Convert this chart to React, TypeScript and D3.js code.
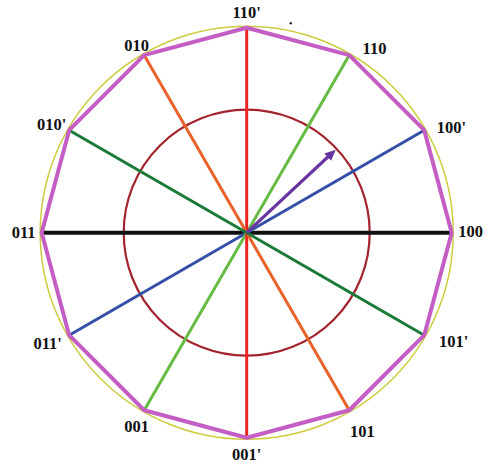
import React from "react";
import * as d3 from "d3";

// Vertex labels, counter-clockwise from the right (degrees, math convention)
const vertexAngles = [0, 30, 60, 90, 120, 150, 180, 210, 240, 270, 300, 330];
const vertexLabels = ["100", "100'", "110", "110'", "010", "010'", "011", "011'", "001", "001'", "101", "101'"];

// Diameters (spokes) through the centre
const spokeAngles = [0, 30, 60, 90, 120, 150];
const spokeColors = ["#111111", "#3450a8", "#66bb44", "#ee2222", "#e8622a", "#1b7a38"];

// The state-vector arrow
const arrowAngle = 43;
const arrowLength = 0.99; // fraction of inner circle radius

// label layout (radial distance and angular nudge per label)
const labelDist = [224, 230, 224, 220, 217, 223, 223, 228, 223, 222, 230, 234];
const labelNudge = [0.3, -2.9, -4.8, 0, 0.5, 1, 0, -0.8, 0.4, 0, 0.2, 2.2];

const W = 485;
const H = 465;
const cx = 246.7;
const cy = 232.7;
const R = 205;
const rInner = 123;

const rad = d3.scaleLinear().domain([0, 360]).range([0, 2 * Math.PI]);
const pt = (deg: number, r: number): [number, number] => {
  const [x, y] = d3.pointRadial(Math.PI / 2 - rad(deg), r);
  return [cx + x, cy + y];
};

export default function App() {
  const polyPts = vertexAngles.map((a) => pt(a, R));
  const poly = d3.line().curve(d3.curveLinearClosed)(polyPts) as string;

  const tip = pt(arrowAngle, rInner * arrowLength);
  const headLen = 11;
  const headW = 5;
  const base = pt(arrowAngle, rInner * arrowLength - headLen);
  const left = [base[0] + headW * Math.cos(rad(arrowAngle + 90)), base[1] - headW * Math.sin(rad(arrowAngle + 90))];
  const right = [base[0] + headW * Math.cos(rad(arrowAngle - 90)), base[1] - headW * Math.sin(rad(arrowAngle - 90))];
  const shaftEnd = pt(arrowAngle, rInner * arrowLength - headLen + 2);

  return (
    <svg width={W} height={H} style={{ position: "absolute", left: 0, top: 0, background: "#fff" }}>
      <circle cx={cx} cy={cy} r={R + 1.5} fill="none" stroke="#cccc3c" strokeWidth={1.5} />
      <circle cx={cx} cy={cy} r={rInner} fill="none" stroke="#a3232e" strokeWidth={2.2} />
      {spokeAngles.map((a, i) => {
        const [x1, y1] = pt(a, R);
        const [x2, y2] = pt(a + 180, R);
        return (
          <line key={a} x1={x1} y1={y1} x2={x2} y2={y2} stroke={spokeColors[i]} strokeWidth={i === 0 ? 4 : 3} />
        );
      })}
      <line x1={cx} y1={cy} x2={shaftEnd[0]} y2={shaftEnd[1]} stroke="#6a35a0" strokeWidth={3.2} />
      <polygon points={`${tip[0]},${tip[1]} ${left[0]},${left[1]} ${right[0]},${right[1]}`} fill="#6a35a0" />
      <path d={poly} fill="none" stroke="#c45ec4" strokeWidth={4} strokeLinejoin="round" />
      {vertexLabels.map((l, i) => {
        const [x, y] = pt(vertexAngles[i] + labelNudge[i], labelDist[i]);
        return (
          <text
            key={l}
            x={x}
            y={y}
            textAnchor="middle"
            dominantBaseline="central"
            fontFamily="Liberation Serif, serif"
            fontWeight="bold"
            fontSize={16.5}
            fill="#111"
          >
            {l}
          </text>
        );
      })}
      <circle cx={290.7} cy={23.3} r={1.2} fill="#222" />
    </svg>
  );
}
